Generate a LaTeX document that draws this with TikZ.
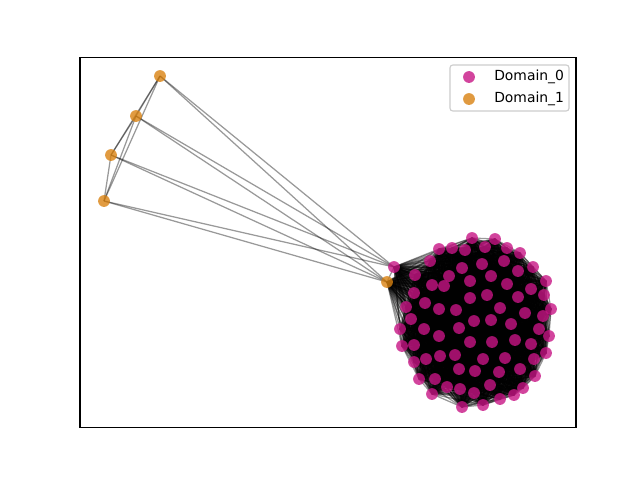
\documentclass[tikz,border=0pt]{standalone}
\usepackage{fontspec}
\setmainfont{DejaVu Sans}
\definecolor{domzero}{RGB}{199,21,133}
\definecolor{domone}{RGB}{217,130,17}
\tikzset{
  dom0/.style={circle, fill=domzero, fill opacity=0.8, draw=none, inner sep=0, minimum size=8.5pt},
  dom1/.style={circle, fill=domone, fill opacity=0.8, draw=none, inner sep=0, minimum size=8.5pt},
  edge/.style={draw=black, draw opacity=0.4, line width=0.9pt},
}
\begin{document}
\begin{tikzpicture}[x=0.72pt, y=-0.72pt]
  \useasboundingbox (0,0) rectangle (640,480);

  % positions, domain 0
  \foreach \px/\py [count=\i] in {394/267, 472/238, 495/239, 439/249, 452/248, 465/250, 485/247,
      507/248, 520/253, 430/261, 462/268, 482/264, 504/261, 518/271, 533/267, 546/281,
      415/275, 449/276, 470/281, 491/276, 507/284, 531/289, 544/295, 551/309, 432/285,
      444/286, 414/293, 470/298, 487/295, 518/297, 406/307, 425/303, 439/309, 456/310,
      500/308, 525/313, 543/316, 411/319, 474/321, 491/320, 511/324, 539/329, 549/336,
      400/329, 424/329, 459/328, 439/336, 470/342, 492/342, 515/340, 531/344, 402/346,
      414/345, 546/353, 455/355, 440/356, 426/359, 483/359, 505/358, 534/359, 414/362,
      459/369, 475/371, 499/372, 520/369, 535/376, 419/379, 435/379, 447/387, 460/389,
      490/385, 523/388, 432/394, 474/393, 500/399, 514/395, 462/407, 483/405}
    \coordinate (p\i) at (\px,\py);
  % positions, domain 1
  \coordinate (hub) at (387,282);
  \coordinate (o1) at (160,76);
  \coordinate (o2) at (136,116);
  \coordinate (o3) at (111,155);
  \coordinate (o4) at (104,201);

  % edges
  \foreach \i in {1,...,78} {
    \draw[edge] (hub) -- (p\i);
    \foreach \j in {\i,...,78} {
      \ifnum\j>\i \draw[edge] (p\i) -- (p\j); \fi
    }
  }
  \foreach \a/\b in {o1/o2, o1/o3, o1/o4, o2/o3, o2/o4, o3/o4,
      o1/hub, o2/hub, o3/hub, o4/hub, o1/p1, o2/p1, o3/p1, o4/p1}
    \draw[edge] (\a) -- (\b);

  % nodes
  \foreach \i in {1,...,78}
    \node[dom0] (n\i) at (p\i) {};
  \foreach \k in {hub, o1, o2, o3, o4}
    \node[dom1] (n\k) at (\k) {};

  \draw[line width=0.8pt] (80,57.6) rectangle (576,427.2);

  % legend
  \node[draw=black!20, line width=0.8pt, fill=white, fill opacity=0.8, rounded corners=2pt,
    minimum width=85.7pt, minimum height=33.1pt, inner sep=0] (legend) at (509.5,88) {};
  \node[dom0] (key0) at (469,77) {};
  \node[dom1] (key1) at (469,99) {};
  \node[anchor=west, inner sep=0] (lab0) at (494,77) {Domain\_0};
  \node[anchor=west, inner sep=0] (lab1) at (494,99) {Domain\_1};
\end{tikzpicture}
\end{document}
